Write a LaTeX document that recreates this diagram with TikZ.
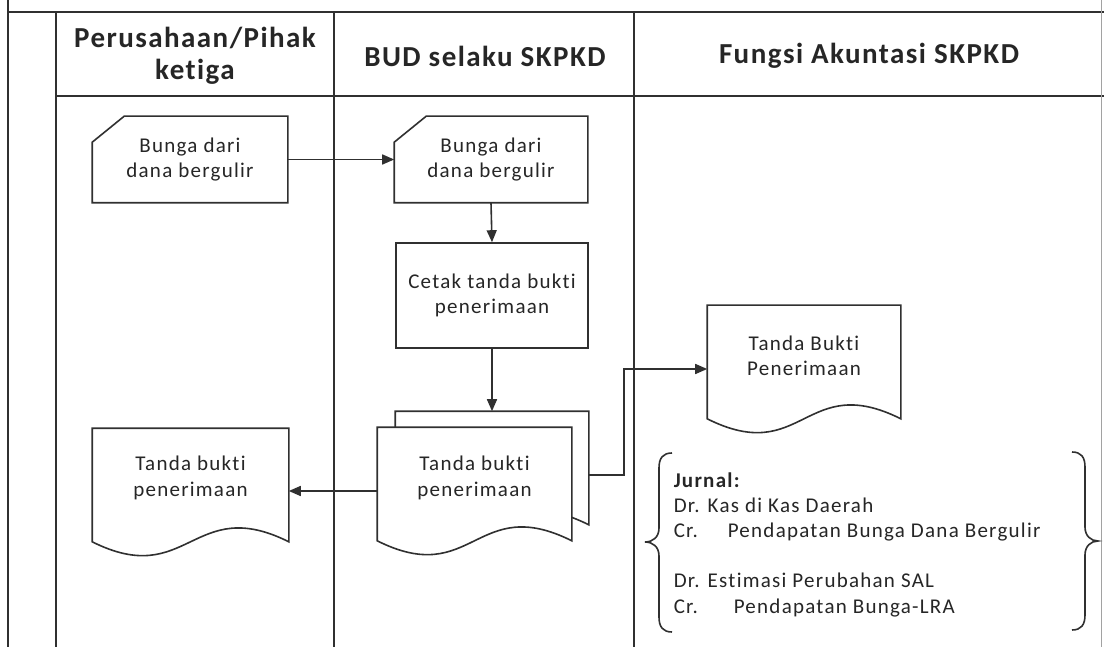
\documentclass[tikz,border=0pt]{standalone}
\usepackage{fontspec}
\setmainfont{Carlito}[Ligatures={NoCommon}]
\usetikzlibrary{arrows.meta,calc}

\definecolor{ink}{HTML}{303030}
\definecolor{txt}{HTML}{262626}

\newcommand{\bodyfont}{\fontsize{21}{25.5}\selectfont\addfontfeatures{LetterSpace=6}}
\newcommand{\headfont}{\fontsize{29}{32}\selectfont\bfseries\addfontfeatures{LetterSpace=5}}

% outline of a punched-card shape (top-left corner cut off)
\newcommand{\cardoutline}[1]{%
  \draw[ink] ($(#1.north west)+(32,0)$) -- (#1.north east) -- (#1.south east)
    -- (#1.south west) -- ($(#1.north west)+(0,26)$) -- cycle;}
% outline of a document shape with a wavy lower edge
\newcommand{\docoutline}[1]{%
  \draw[ink, fill=white] ([yshift=14pt]#1.south east) -- (#1.north east) -- (#1.north west)
    -- ([yshift=14pt]#1.south west)
    .. controls +(96,48) and +(-96,-48) .. ([yshift=14pt]#1.south east) -- cycle;}

\begin{document}
\begin{tikzpicture}[x=1pt, y=-1pt, line width=1.6pt,
  tablerule/.style={draw=ink, line width=1.6pt},
  head/.style={font=\headfont, text=txt, align=center, inner sep=0pt},
  card/.style={minimum height=85pt, inner sep=0pt, font=\bodyfont, text=txt, align=center},
  procbox/.style={draw=ink, minimum height=105pt, inner sep=0pt, font=\bodyfont, text=txt, align=center},
  docframe/.style={minimum height=126pt, inner sep=0pt},
  doctext/.style={font=\bodyfont, text=txt, align=center, inner sep=0pt},
  jline/.style={font=\bodyfont, text=txt, anchor=base west, inner sep=0pt},
  flow/.style={draw=ink, -{Triangle[length=12pt,width=10pt]}}]

\fill[white] (0,0) rectangle (1104,647);
\useasboundingbox (0,0) rectangle (1104,647);

% swimlane table
\draw[tablerule] (8,0) -- (8,647);
\draw[tablerule] (8,12) -- (1104,12);
\draw[tablerule] (56,12) -- (56,647);
\draw[tablerule] (56,96) -- (1104,96);
\draw[tablerule] (334,12) -- (334,647);
\draw[tablerule] (634,12) -- (634,647);
\draw[draw=ink!45, line width=0.8pt] (1101,0) -- (1101,647);

% lane headers
\node[head] (h1) at (195,56) {Perusahaan/Pihak\\ketiga};
\node[head] (h2) at (485,56) {BUD selaku SKPKD};
\node[head] (h3) at (869,56) {Fungsi Akuntasi SKPKD};

% source cards
\node[card, minimum width=194pt] (cardL) at (190,159.5) {Bunga dari\\dana bergulir};
\cardoutline{cardL}
\node[card, minimum width=192pt] (cardM) at (491,159.5) {Bunga dari\\dana bergulir};
\cardoutline{cardM}

% printing step
\node[procbox, minimum width=192pt] (procP) at (492,295.5) {Cetak tanda bukti\\penerimaan};

% receipt documents
\node[docframe, minimum width=195pt] (docL) at (190.5,492) {};
\node[docframe, minimum width=192pt] (docB) at (492,475) {};
\node[docframe, minimum width=193pt] (docF) at (474.5,491) {};
\node[docframe, minimum width=192pt] (docR) at (804,369) {};
\docoutline{docL}
\docoutline{docB}
\docoutline{docF}
\docoutline{docR}
\node[doctext] (tL) at ([yshift=14pt]docL.center) {Tanda bukti\\penerimaan};
\node[doctext] (tF) at ([yshift=13pt]docF.center) {Tanda bukti\\penerimaan};
\node[doctext] (tR) at ([yshift=13pt]docR.center) {Tanda Bukti\\Penerimaan};

% flow connectors
\draw[flow] (cardL.east) -- (cardL.east -| cardM.west);
\draw[flow] (cardM.south) -- (procP.north);
\draw[flow] (procP.south) -- (docB.north);
\draw[flow] (docF.west) -- (docF.west -| docL.east);
\draw[flow] (docB.east) -- ++(35,0) |- (docR.west);

% journal entries
\node[jline] (j1) at (673,487) {\textbf{Jurnal:}};
\node[jline] (j2) at (673,512) {Dr. Kas di Kas Daerah};
\node[jline] (j3) at (673,537) {\makebox[54pt][l]{Cr.}Pendapatan Bunga Dana Bergulir};
\node[jline] (j4) at (673,587) {Dr. Estimasi Perubahan SAL};
\node[jline] (j5) at (673,613) {\makebox[60pt][l]{Cr.}Pendapatan Bunga-LRA};

% braces around the journal
\draw[ink] (672,453) .. controls (663,453) and (659,458) .. (659,468) -- (659,528)
  .. controls (659,537) and (653,542) .. (645,542)
  .. controls (653,542) and (659,547) .. (659,556) -- (659,617)
  .. controls (659,627) and (663,632) .. (672,632);
\draw[ink] (1072,452) .. controls (1081,452) and (1085,457) .. (1085,467) -- (1085,527)
  .. controls (1085,536) and (1091,541) .. (1098,541)
  .. controls (1091,541) and (1085,546) .. (1085,555) -- (1085,615)
  .. controls (1085,625) and (1081,630) .. (1072,630);
\end{tikzpicture}
\end{document}
